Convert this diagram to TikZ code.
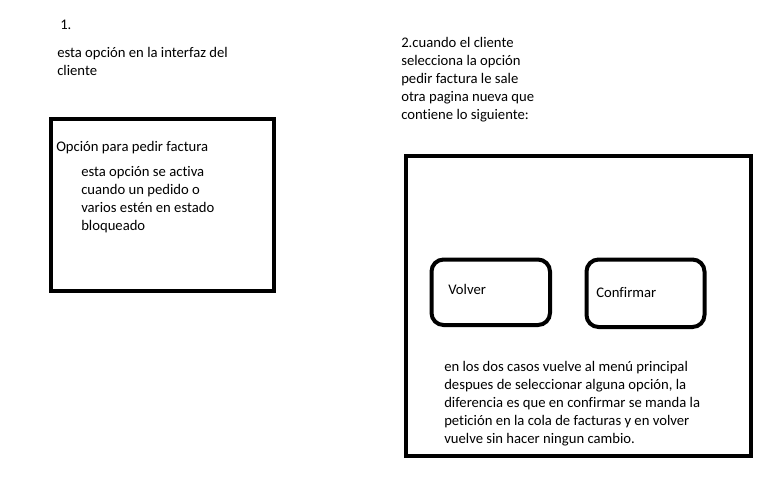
\documentclass[tikz,border=0pt]{standalone}
\usepackage{fontspec}
\setmainfont{Carlito}[Ligatures=NoCommon]

\tikzset{
  txt/.style={anchor=west, inner sep=0pt, align=left,
    font=\fontsize{11}{13.5}\selectfont},
  frame/.style={draw, line width=3pt, inner sep=0pt},
  boton/.style={frame, rounded corners=9pt}
}

\begin{document}
\begin{tikzpicture}[x=0.75pt, y=-0.75pt]
      \useasboundingbox (0,0) rectangle (768,480);



      \node[txt] (paso1) at (60,25) {1.};

      \node[txt] (interfaz) at (57,61) {esta opción en la interfaz del\\
        cliente};



      \node[frame, minimum width=222.5*0.75pt, minimum height=172*0.75pt]
        (panelL) at (162.25,205) {};

      \node[txt] (pedir) at (56,148) {Opción para pedir factura};

      \node[txt] (activa) at (81,200) {esta opción se activa\\
        cuando un pedido o\\ varios estén en estado\\ bloqueado};



      \node[txt] (paso2) at (401,80) {2.cuando el cliente\\
        selecciona la opción\\ pedir factura le sale\\
        otra pagina nueva que\\ contiene lo siguiente:};

      \node[frame, minimum width=345*0.75pt, minimum height=300*0.75pt]
        (panelR) at (578,305.5) {};

      \node[boton, minimum width=118.5*0.75pt, minimum height=65.5*0.75pt]
        (volverbtn) at (490.75,292.25) {};

      \node[txt] (volver) at (448,289) {Volver};

      \node[boton, minimum width=118*0.75pt, minimum height=67.5*0.75pt]
        (confirmarbtn) at (645.5,293.25) {};

      \node[txt] (confirmar) at (596,292) {Confirmar};

      \node[txt] (casos) at (444,404) {en los dos casos vuelve al menú principal\\
        despues de seleccionar alguna opción, la\\
        diferencia es que en confirmar se manda la\\
        petición en la cola de facturas y en volver\\
        vuelve sin hacer ningun cambio.};
    \end{tikzpicture}
\end{document}
